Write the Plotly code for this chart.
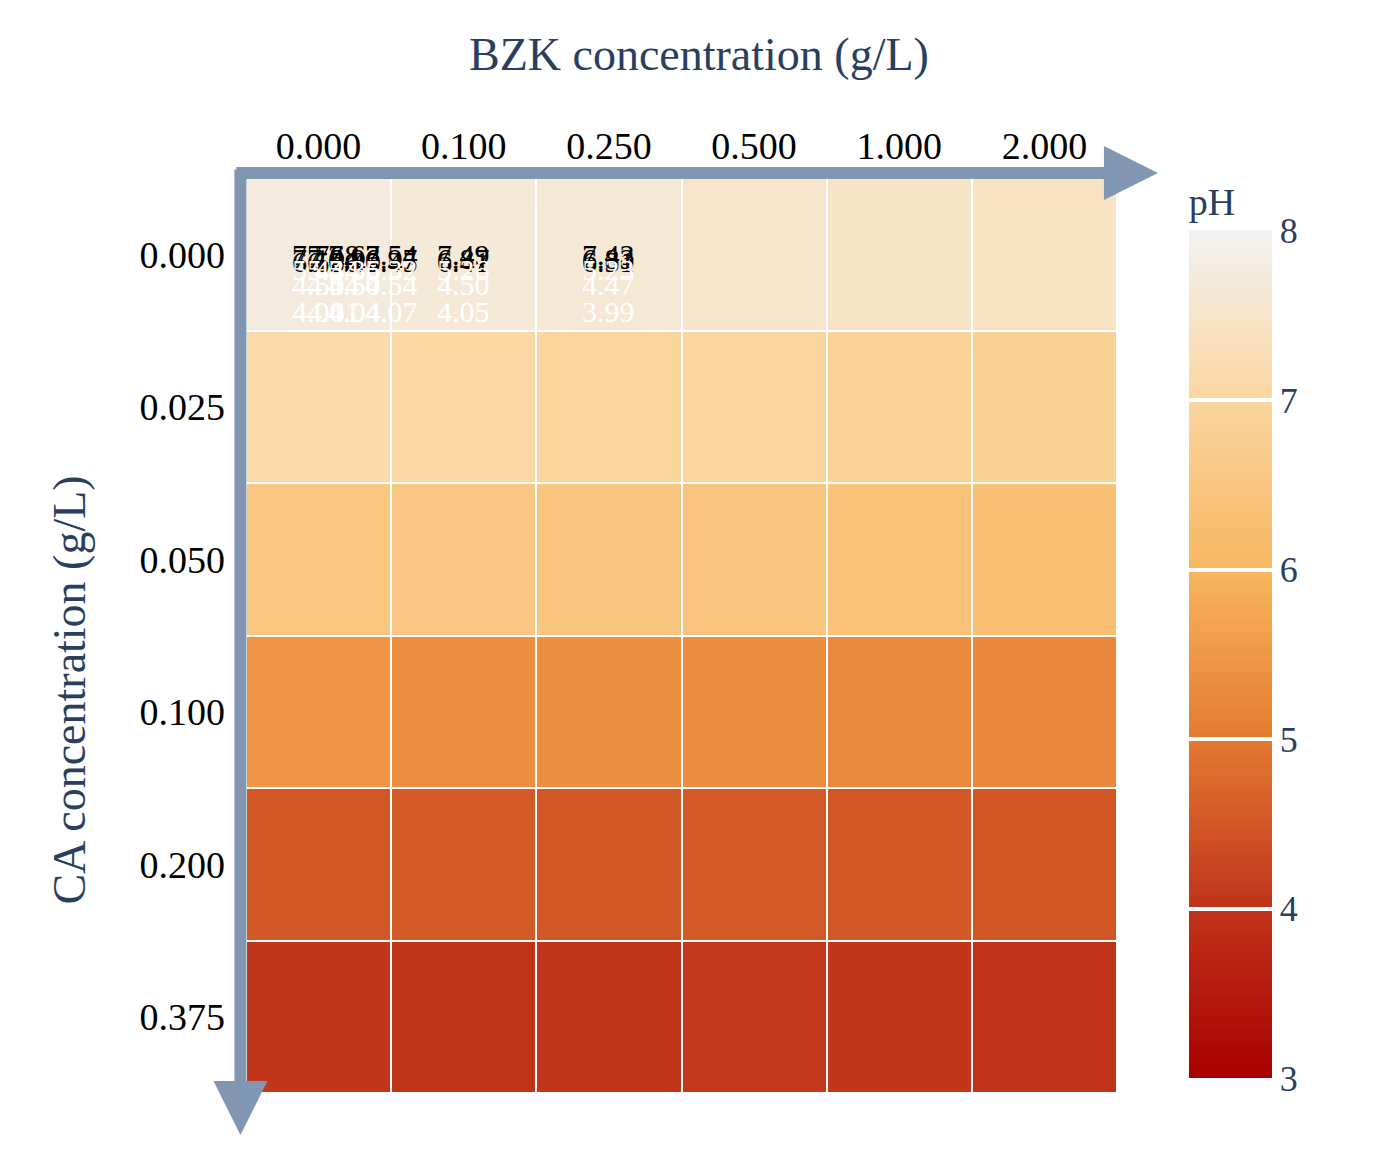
import plotly.graph_objects as go

bzk = ["0.000", "0.100", "0.250", "0.500", "1.000", "2.000"]
ca = ["0.000", "0.025", "0.050", "0.100", "0.200", "0.375"]
ph = [
    [7.76, 7.68, 7.63, 7.54, 7.49, 7.43],
    [7.14, 7.04, 6.96, 6.97, 6.87, 6.83],
    [6.53, 6.56, 6.49, 6.45, 6.41, 6.31],
    [5.44, 5.34, 5.36, 5.32, 5.26, 5.23],
    [4.50, 4.54, 4.50, 4.54, 4.50, 4.47],
    [4.06, 4.01, 4.04, 4.07, 4.05, 3.99],
]
cb_ticks = [3, 4, 5, 6, 7, 8]

FONT = "Liberation Serif"
cs = [[0.0, "#a80000"], [0.2, "#c0331a"], [0.4, "#e47a32"], [0.6, "#f8b660"],
      [0.8, "#fbd6a0"], [1.0, "#f2f2f2"]]

fig = go.Figure()
fig.add_trace(go.Heatmap(
    z=ph, x=bzk, y=ca, zmin=3, zmax=8, colorscale=cs, xgap=2, ygap=2,
    showscale=True,
    colorbar=dict(title=dict(text="pH", side="top", font=dict(family=FONT, size=38)),
                  thickness=83, thicknessmode="pixels", len=1.0, lenmode="fraction",
                  x=1.071, xanchor="left", y=1.005, yanchor="top",
                  tickvals=cb_ticks, ticks="inside", ticklen=83, tickcolor="white",
                  tickwidth=4, outlinewidth=0,
                  tickfont=dict(family=FONT, size=36)),
))
for i, row in enumerate(ph):
    for j, v in enumerate(row):
        fig.add_annotation(x=bzk[j], y=ca[i], text=f"{v:.2f}", showarrow=False,
                           font=dict(family=FONT, size=30,
                                     color="white" if v < 6 else "black"))

AC = "#8197b1"
fig.add_annotation(xref="x domain", yref="y domain", axref="x domain", ayref="y domain",
                   x=1.047, y=1.0055, ax=-0.0128, ay=1.0055, text="",
                   showarrow=True, arrowhead=2, arrowsize=0.9, arrowwidth=12, arrowcolor=AC)
fig.add_annotation(xref="x domain", yref="y domain", axref="x domain", ayref="y domain",
                   x=-0.0064, y=-0.046, ax=-0.0064, ay=1.011, text="",
                   showarrow=True, arrowhead=2, arrowsize=0.9, arrowwidth=12, arrowcolor=AC)
fig.add_annotation(xref="paper", yref="paper", x=0.52, y=1.135, text="BZK concentration (g/L)",
                   showarrow=False, font=dict(family=FONT, size=46), yanchor="middle")
fig.add_annotation(xref="paper", yref="paper", x=-0.203, y=0.44, text="CA concentration (g/L)",
                   showarrow=False, textangle=-90, font=dict(family=FONT, size=46), xanchor="center")

fig.update_xaxes(side="top", showgrid=False, zeroline=False, ticks="",
                 tickfont=dict(family=FONT, size=38, color="black"), ticklabelstandoff=10)
fig.update_yaxes(autorange="reversed", showgrid=False, zeroline=False, ticks="",
                 tickfont=dict(family=FONT, size=38, color="black"), ticklabelstandoff=20)
fig.update_layout(width=1395, height=1149, margin=dict(l=238, r=217, t=170, b=64),
                  plot_bgcolor="white", paper_bgcolor="white", font=dict(family=FONT))
fig.write_html("out.html")
